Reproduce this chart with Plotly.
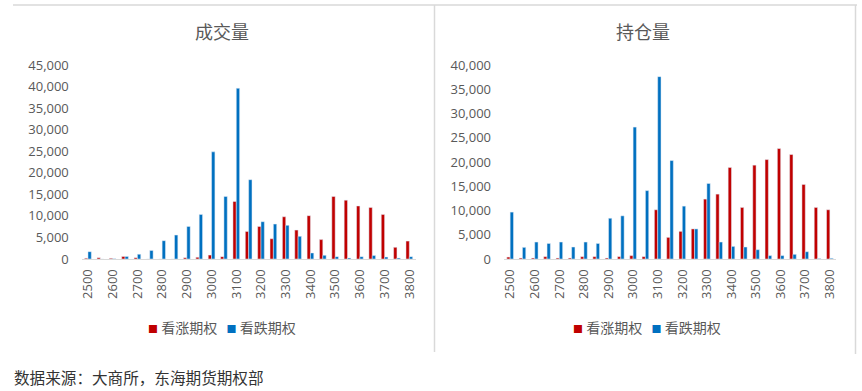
import plotly.graph_objects as go

strikes = list(range(2500, 3850, 50))

vol_call = [200, 300, 150, 600, 300, 0, 0, 0, 300, 400, 900, 550, 13350, 6400, 7550, 4700,
            9800, 6700, 10050, 4500, 14500, 13650, 12300, 11950, 10350, 2700, 4150]
vol_put = [1700, 0, 50, 600, 1100, 2000, 4250, 5550, 7550, 10350, 24850, 14500, 39600, 18400,
           8650, 8100, 7800, 5250, 1400, 850, 550, 250, 550, 800, 450, 250, 550]

oi_call = [400, 200, 200, 480, 200, 200, 480, 480, 200, 480, 700, 480, 10150, 4460, 5700, 6200,
           12350, 13380, 18870, 10630, 19350, 20500, 22770, 21540, 15370, 10630, 10150]
oi_put = [9670, 2400, 3500, 3200, 3500, 2470, 3500, 3200, 8400, 8900, 27200, 14100, 37600, 20300,
          10900, 6200, 15570, 3500, 2600, 2470, 1920, 700, 700, 960, 1500, 100, 150]

tick_labels = [str(v) for v in range(2500, 3850, 100)]
series_names = ["看涨期权", "看跌期权"]
panel_titles = ["成交量", "持仓量"]
source_text = "数据来源：大商所，东海期货期权部"

RED = "#C00000"
BLUE = "#0070C0"
GRAY = "#595959"
LINE = "#D9D9D9"
CJK = "Noto Sans CJK SC"
FONT = "Open Sans, Noto Sans CJK SC"

fig = go.Figure()

fig.add_trace(go.Bar(x=strikes, y=vol_call, name=series_names[0], marker_color=RED,
                     xaxis="x", yaxis="y", showlegend=False))
fig.add_trace(go.Bar(x=strikes, y=vol_put, name=series_names[1], marker_color=BLUE,
                     xaxis="x", yaxis="y", showlegend=False))
fig.add_trace(go.Bar(x=strikes, y=oi_call, name=series_names[0], marker_color=RED,
                     xaxis="x2", yaxis="y2", showlegend=False))
fig.add_trace(go.Bar(x=strikes, y=oi_put, name=series_names[1], marker_color=BLUE,
                     xaxis="x2", yaxis="y2", showlegend=False))

W, H = 862, 391
ydom = [(H - 259) / H, (H - 65) / H]

xcommon = dict(range=[2475, 3825], tickvals=list(range(2500, 3850, 100)), ticktext=tick_labels,
               tickangle=-90, showgrid=False, zeroline=False, showline=True, linecolor=LINE,
               linewidth=1, ticks="", tickfont=dict(family=FONT, size=13, color=GRAY),
               ticklabelstandoff=4, fixedrange=True, automargin=False)
ycommon = dict(showgrid=False, zeroline=False, showline=False, tickformat=",d",
               tickfont=dict(family=FONT, size=13, color=GRAY), ticks="",
               ticklabelstandoff=12, domain=ydom, fixedrange=True, automargin=False)


def legend_text():
    return (f'<span style="color:{RED};font-size:10px">■</span> {series_names[0]}'
            f'   <span style="color:{BLUE};font-size:10px">■</span> {series_names[1]}')


fig.update_layout(
    width=W, height=H,
    margin=dict(l=0, r=0, t=0, b=0, autoexpand=False),
    paper_bgcolor="white", plot_bgcolor="white",
    barmode="group", bargap=0.46, bargroupgap=0,
    showlegend=False,
    xaxis=dict(domain=[81.8 / W, 415.5 / W], anchor="y", **xcommon),
    yaxis=dict(range=[0, 45000], dtick=5000, anchor="x", **ycommon),
    xaxis2=dict(domain=[504 / W, 836 / W], anchor="y2", **xcommon),
    yaxis2=dict(range=[0, 40000], dtick=5000, anchor="x2", **ycommon),
    annotations=[
        dict(text=panel_titles[0], x=222 / W, y=(H - 31) / H, xref="paper", yref="paper",
             xanchor="center", yanchor="middle",
             showarrow=False, font=dict(family=CJK, size=18, color=GRAY)),
        dict(text=panel_titles[1], x=643 / W, y=(H - 31) / H, xref="paper", yref="paper",
             xanchor="center", yanchor="middle",
             showarrow=False, font=dict(family=CJK, size=18, color=GRAY)),
        dict(text=legend_text(), x=222 / W, y=(H - 327) / H, xref="paper", yref="paper",
             xanchor="center", yanchor="middle", showarrow=False,
             font=dict(family=CJK, size=14, color=GRAY)),
        dict(text=legend_text(), x=647 / W, y=(H - 327) / H, xref="paper", yref="paper",
             xanchor="center", yanchor="middle", showarrow=False,
             font=dict(family=CJK, size=14, color=GRAY)),
        dict(text=source_text, x=12 / W, y=(H - 377) / H, xref="paper", yref="paper",
             xanchor="left", yanchor="middle", showarrow=False,
             font=dict(family=CJK, size=15.6, color="#333333")),
    ],
    shapes=[
        dict(type="line", xref="paper", yref="paper", x0=13 / W, x1=857 / W,
             y0=(H - 5) / H, y1=(H - 5) / H, line=dict(color=LINE, width=1.5)),
        dict(type="line", xref="paper", yref="paper", x0=434.5 / W, x1=434.5 / W,
             y0=(H - 5) / H, y1=(H - 352) / H, line=dict(color=LINE, width=1.5)),
        dict(type="line", xref="paper", yref="paper", x0=855.5 / W, x1=855.5 / W,
             y0=(H - 5) / H, y1=(H - 354) / H, line=dict(color=LINE, width=1.5)),
    ],
)

fig.write_html(
    "out.html",
    config={"displayModeBar": False, "staticPlot": True},
    post_script="document.body.style.margin='0';document.body.style.overflow='hidden';",
)
